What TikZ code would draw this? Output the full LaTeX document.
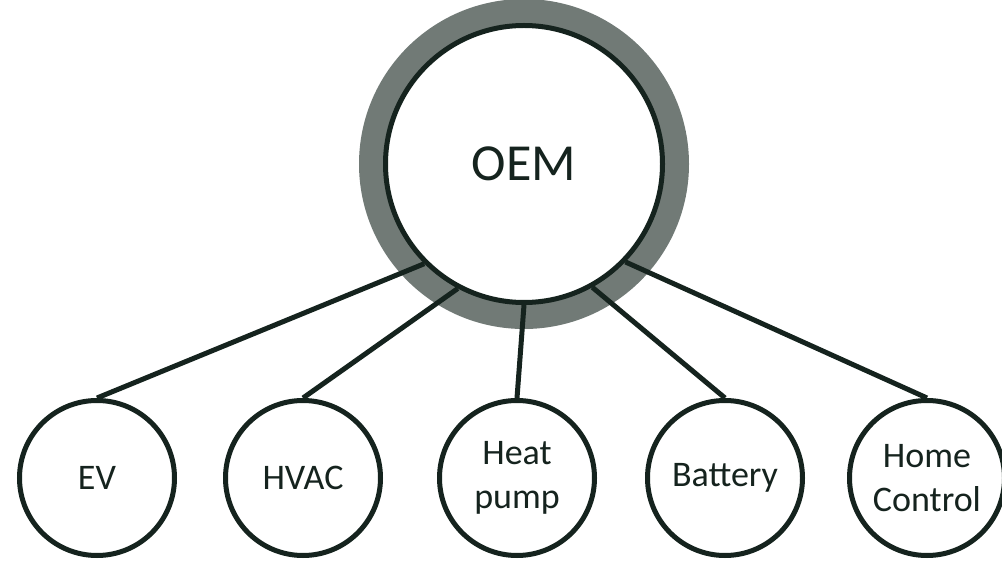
\documentclass[tikz,border=0pt]{standalone}
\usepackage{fontspec}
\setmainfont{Carlito}
\definecolor{ink}{HTML}{15231E}
\definecolor{ring}{HTML}{717A76}
\begin{document}
\begin{tikzpicture}[x=1pt,y=1pt,
  small/.style={circle,draw=ink,line width=5pt,fill=white,minimum size=155pt,inner sep=0pt,align=center,text=ink,font=\fontsize{36}{44}\selectfont},
  big/.style={circle,draw=ink,line width=5pt,fill=white,minimum size=277pt,inner sep=0pt,text=ink,font=\fontsize{52}{60}\selectfont},
  link/.style={draw=ink,line width=5pt}]
\useasboundingbox (0,0) rectangle (1002,560);
\fill[ring] (524,396) circle (165);
\node[big] (oem) at (524,396) {OEM};
\node[small] (ev) at (97,82) {EV};
\node[small] (hvac) at (303,82) {HVAC};
\node[small] (heat) at (517,82) {Heat\\pump};
\node[small] (bat) at (725,82) {Battery};
\node[small] (home) at (927,82) {Home\\Control};
\draw[link] (ev.north) -- (oem.-135.6);
\draw[link] (hvac.north) -- (oem.-118.2);
\draw[link] (heat.north) -- (oem.-90.4);
\draw[link] (bat.north) -- (oem.-61.6);
\draw[link] (home.north) -- (oem.-44.4);
\end{tikzpicture}
\end{document}
